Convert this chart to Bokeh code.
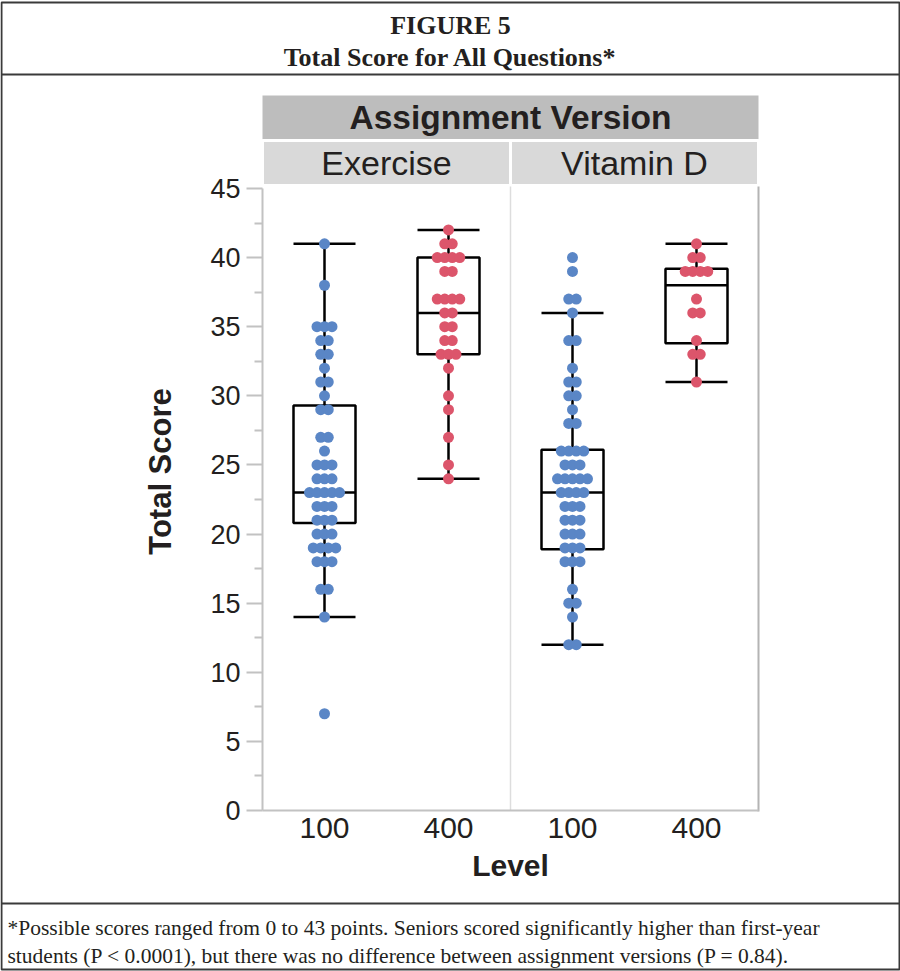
import math
from collections import Counter
from bokeh.plotting import figure
from bokeh.models import Range1d, LinearAxis, FixedTicker, ColumnDataSource
from bokeh.core.properties import value
from bokeh.embed import file_html
from bokeh.resources import INLINE

# ---------------- data ----------------
fig_label = "FIGURE 5"
fig_title = "Total Score for All Questions*"
facet_title = "Assignment Version"
panels = ["Exercise", "Vitamin D"]
group_panel = ["Exercise", "Exercise", "Vitamin D", "Vitamin D"]
group_level = ["100", "400", "100", "400"]
x_title = "Level"
y_title = "Total Score"
footnote = [
    "*Possible scores ranged from 0 to 43 points. Seniors scored significantly higher than first-year",
    "students (P < 0.0001), but there was no difference between assignment versions (P = 0.84).",
]

scores_ex100 = [41, 38, 35, 35, 35, 34, 34, 33, 33, 32, 31, 31, 30, 29, 29, 27, 27, 26,
                25, 25, 25, 24, 24, 24, 23, 23, 23, 23, 23, 22, 22, 22, 21, 21, 21,
                20, 20, 20, 19, 19, 19, 19, 18, 18, 18, 16, 16, 14, 7]
scores_ex400 = [42, 41, 41, 40, 40, 40, 40, 39, 39, 37, 37, 37, 37, 36, 36, 35, 35, 34, 34,
                33, 33, 33, 32, 30, 29, 27, 25, 24]
scores_vd100 = [40, 39, 37, 37, 36, 34, 34, 32, 31, 31, 30, 30, 29, 28, 28, 26, 26, 26, 26,
                25, 25, 25, 24, 24, 24, 24, 24, 23, 23, 23, 23, 22, 22, 22, 21, 21, 21,
                20, 20, 20, 19, 19, 19, 18, 18, 18, 16, 15, 15, 14, 12, 12]
scores_vd400 = [41, 40, 40, 39, 39, 39, 39, 37, 36, 36, 34, 33, 33, 31]

box_low = [14, 24, 12, 31]
box_q1 = [20.8, 33, 18.9, 33.8]
box_median = [23, 36, 23, 38]
box_q3 = [29.3, 40, 26.1, 39.2]
box_high = [41, 42, 36, 41]

y_ticks = [0, 5, 10, 15, 20, 25, 30, 35, 40, 45]
level_colors = {"100": "#5a86c6", "400": "#dc556b"}

# ---------------- layout ----------------
REF_W, REF_H = 900, 971
W, H = 900, 971
K = W / REF_W
def fs(n):
    return f"{n * K:.1f}px"

Y0_PX, Y45_PX = 810, 188
X0_PX, X4_PX = 262, 758
yscale = (Y0_PX - Y45_PX) / (y_ticks[-1] - y_ticks[0])
xscale = (X4_PX - X0_PX) / 4.0

p = figure(width=W, height=H, x_range=Range1d(0, REF_W), y_range=Range1d(REF_H, 0),
           x_axis_type=None, y_axis_type=None, output_backend="svg",
           toolbar_location=None, min_border=0, title_location=None)
p.outline_line_color = None
p.background_fill_color = "white"
p.border_fill_color = "white"
p.extra_y_ranges = {"score": Range1d(start=(Y0_PX - REF_H) / yscale, end=Y0_PX / yscale)}
p.extra_x_ranges = {"grp": Range1d(start=-X0_PX / xscale, end=(REF_W - X0_PX) / xscale)}

SANS = value("Liberation Sans")
SERIF = value("Liberation Serif")
TXT = "#231f20"

# outer frame & separators
p.quad(left=[1], right=[899], top=[2], bottom=[969], fill_color=None,
       line_color="#3a3a3a", line_width=2)
p.segment(x0=[1, 1], x1=[899, 899], y0=[74, 903], y1=[74, 903],
          line_color="#3a3a3a", line_width=2)

# titles
p.text(x=[450, 450], y=[25, 57], text=[fig_label, fig_title], text_font=SERIF,
       text_font_style="bold", text_font_size=fs(26), text_align="center",
       text_baseline="middle", text_color=TXT)
p.text(x=[7, 7], y=[927, 955], text=footnote, text_font=SERIF,
       text_font_size=fs(21.5), text_align="left", text_baseline="middle", text_color=TXT)

# facet headers
p.quad(left=[0], right=[4], top=[95], bottom=[139], fill_color="#bdbdbd",
       line_color=None, x_range_name="grp")
p.text(x=[2], y=[117], text=[facet_title], text_font=SANS, text_font_style="bold",
       text_font_size=fs(33.5), text_align="center", text_baseline="middle",
       text_color=TXT, x_range_name="grp")
p.quad(left=[0, 2], right=[2, 4], top=[140, 140], bottom=[185, 185],
       fill_color="#d9d9d9", line_color="white", line_width=3, x_range_name="grp")
p.text(x=[1, 3], y=[162, 162], text=panels, text_font=SANS, text_font_size=fs(34),
       text_align="center", text_baseline="middle", text_color=TXT, x_range_name="grp")

# panel borders
p.segment(x0=[2], x1=[2], y0=[186], y1=[810], line_color="#dddddd", line_width=1.5,
          x_range_name="grp")
p.segment(x0=[4], x1=[4], y0=[186], y1=[811], line_color="#b4b4b4", line_width=2,
          x_range_name="grp")

# axis titles
p.text(x=[160], y=[471], text=[y_title], angle=math.pi / 2, text_font=SANS,
       text_font_style="bold", text_font_size=fs(31), text_align="center",
       text_baseline="middle", text_color=TXT)
p.text(x=[2], y=[865], text=[x_title], text_font=SANS, text_font_style="bold",
       text_font_size=fs(30), text_align="center", text_baseline="middle",
       text_color=TXT, x_range_name="grp")

# axes
minor = [(a + b) / 2 for a, b in zip(y_ticks[:-1], y_ticks[1:])]
AX = "#c2c2c2"
yax = LinearAxis(x_range_name="grp", y_range_name="score", fixed_location=0,
                 bounds=(y_ticks[0], y_ticks[-1]),
                 ticker=FixedTicker(ticks=y_ticks, minor_ticks=minor),
                 axis_line_color=AX, axis_line_width=2,
                 major_tick_line_color=AX, major_tick_line_width=2,
                 major_tick_out=16, major_tick_in=0,
                 minor_tick_line_color=AX, minor_tick_line_width=2,
                 minor_tick_out=8, minor_tick_in=0,
                 major_label_text_font="Liberation Sans", major_label_text_font_size=fs(27),
                 major_label_text_color=TXT, major_label_standoff=6)
p.add_layout(yax, "left")

positions = [i + 0.5 for i in range(len(group_level))]
xax = LinearAxis(x_range_name="grp", y_range_name="score", fixed_location=0,
                 bounds=(0, 4), ticker=FixedTicker(ticks=positions, minor_ticks=[]),
                 major_label_overrides={pos: lab for pos, lab in zip(positions, group_level)},
                 axis_line_color=AX, axis_line_width=2,
                 major_tick_out=0, major_tick_in=0, minor_tick_out=0, minor_tick_in=0,
                 major_label_text_font="Liberation Sans", major_label_text_font_size=fs(30),
                 major_label_text_color=TXT, major_label_standoff=7)
p.add_layout(xax, "below")

# box plots
half = 0.25
box = ColumnDataSource(dict(
    pos=positions,
    left=[c - half for c in positions], right=[c + half for c in positions],
    low=box_low, q1=box_q1, med=box_median, q3=box_q3, high=box_high))
kw = dict(source=box, x_range_name="grp", y_range_name="score", line_color="black",
          line_width=2.5)
p.segment(x0="pos", x1="pos", y0="low", y1="q1", **kw)
p.segment(x0="pos", x1="pos", y0="q3", y1="high", **kw)
p.segment(x0="left", x1="right", y0="low", y1="low", **kw)
p.segment(x0="left", x1="right", y0="high", y1="high", **kw)
p.quad(left="left", right="right", bottom="q1", top="q3", fill_color=None, **kw)
p.segment(x0="left", x1="right", y0="med", y1="med", **kw)

# points (beeswarm-like spreading of equal values)
all_scores = [scores_ex100, scores_ex400, scores_vd100, scores_vd400]
xs, ys, cs = [], [], []
step = 7.5 / xscale
for pos, lev, sc in zip(positions, group_level, all_scores):
    counts = Counter(sc)
    seen = Counter()
    for v in sc:
        n = counts[v]
        k = seen[v]
        seen[v] += 1
        xs.append(pos + (k - (n - 1) / 2) * step)
        ys.append(v)
        cs.append(level_colors[lev])
pts = ColumnDataSource(dict(x=xs, y=ys, c=cs))
p.scatter(x="x", y="y", source=pts, size=11, fill_color="c", line_color=None,
          x_range_name="grp", y_range_name="score")

open("out.html", "w").write(file_html(p, INLINE))
